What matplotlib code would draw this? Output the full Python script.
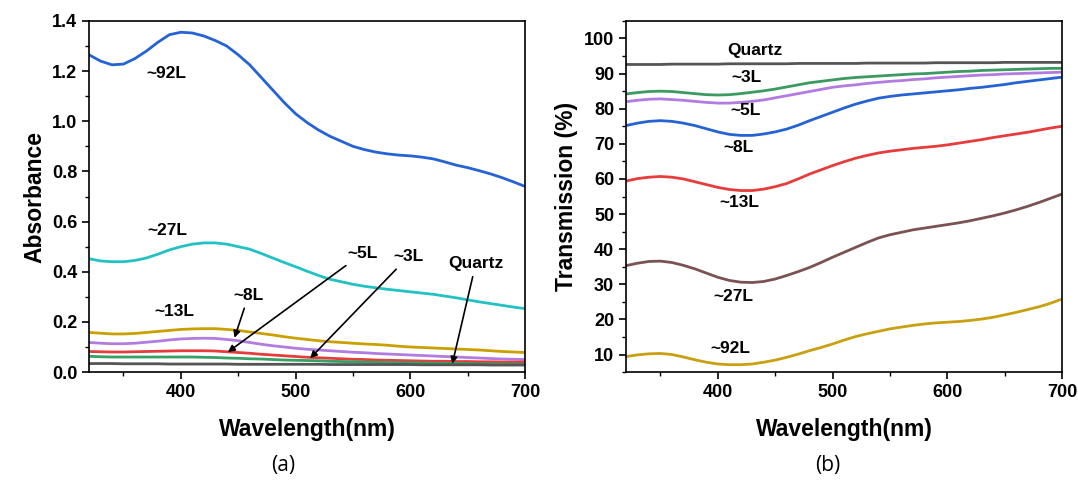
import numpy as np
import matplotlib.pyplot as plt
from matplotlib.ticker import MultipleLocator, FormatStrFormatter

plt.rcParams['font.family'] = ['Liberation Sans', 'DejaVu Sans']

# wavelength grid (nm), 320..700 every 10 nm
wl = list(range(320, 701, 10))

# (a) absorbance
abs_92L = [1.265, 1.24, 1.225, 1.228, 1.25, 1.28, 1.315, 1.345, 1.355, 1.352, 1.34, 1.322, 1.30, 1.265,
           1.225, 1.175, 1.125, 1.075, 1.03, 0.995, 0.965, 0.94, 0.92, 0.90, 0.887, 0.877, 0.87, 0.865,
           0.862, 0.857, 0.85, 0.838, 0.825, 0.815, 0.803, 0.79, 0.775, 0.758, 0.74]
abs_27L = [0.452, 0.443, 0.44, 0.44, 0.445, 0.455, 0.47, 0.487, 0.50, 0.51, 0.515, 0.515, 0.51, 0.50,
           0.49, 0.473, 0.455, 0.437, 0.42, 0.402, 0.385, 0.37, 0.36, 0.35, 0.342, 0.336, 0.33, 0.325,
           0.32, 0.315, 0.31, 0.303, 0.296, 0.288, 0.28, 0.273, 0.266, 0.259, 0.253]
abs_13L = [0.158, 0.155, 0.152, 0.152, 0.154, 0.158, 0.162, 0.166, 0.17, 0.172, 0.173, 0.173, 0.17, 0.166,
           0.16, 0.154, 0.148, 0.141, 0.135, 0.13, 0.125, 0.121, 0.118, 0.115, 0.112, 0.11, 0.107, 0.103,
           0.10, 0.098, 0.096, 0.094, 0.092, 0.09, 0.088, 0.085, 0.082, 0.08, 0.078]
abs_8L = [0.118, 0.115, 0.113, 0.113, 0.115, 0.119, 0.123, 0.128, 0.132, 0.134, 0.135, 0.134, 0.13, 0.125,
          0.118, 0.111, 0.105, 0.10, 0.095, 0.091, 0.088, 0.085, 0.082, 0.079, 0.077, 0.074, 0.072, 0.07,
          0.068, 0.066, 0.064, 0.062, 0.06, 0.058, 0.056, 0.054, 0.052, 0.051, 0.05]
abs_5L = [0.082, 0.081, 0.08, 0.08, 0.081, 0.082, 0.083, 0.084, 0.085, 0.085, 0.085, 0.084, 0.081, 0.078,
          0.075, 0.071, 0.068, 0.065, 0.062, 0.059, 0.057, 0.055, 0.053, 0.051, 0.05, 0.048, 0.047, 0.046,
          0.045, 0.044, 0.043, 0.043, 0.042, 0.042, 0.041, 0.041, 0.04, 0.04, 0.04]
abs_3L = [0.063, 0.061, 0.06, 0.06, 0.06, 0.06, 0.06, 0.06, 0.06, 0.06, 0.059, 0.058, 0.056, 0.055,
          0.053, 0.052, 0.05, 0.048, 0.047, 0.046, 0.045, 0.043, 0.042, 0.041, 0.04, 0.039, 0.038, 0.037,
          0.037, 0.036, 0.035, 0.035, 0.034, 0.034, 0.033, 0.033, 0.032, 0.032, 0.031]
abs_qz = [0.034, 0.034, 0.034, 0.033, 0.033, 0.033, 0.033, 0.032, 0.032, 0.032, 0.032, 0.032, 0.032, 0.031,
          0.031, 0.031, 0.031, 0.031, 0.031, 0.031, 0.031, 0.030, 0.030, 0.030, 0.030, 0.030, 0.030, 0.030,
          0.030, 0.029, 0.029, 0.029, 0.029, 0.029, 0.029, 0.028, 0.028, 0.028, 0.028]

# (b) transmission (%)
tr_qz = [92.6, 92.6, 92.6, 92.6, 92.7, 92.7, 92.7, 92.7, 92.7, 92.8, 92.8, 92.8, 92.8, 92.8,
         92.8, 92.9, 92.9, 92.9, 92.9, 92.9, 92.9, 93.0, 93.0, 93.0, 93.0, 93.0, 93.0, 93.1,
         93.1, 93.1, 93.1, 93.1, 93.1, 93.2, 93.2, 93.2, 93.2, 93.2, 93.2]
tr_3L = [84.2, 84.6, 84.9, 85.0, 84.9, 84.6, 84.3, 84.0, 83.9, 84.0, 84.3, 84.7, 85.1, 85.6,
         86.2, 86.8, 87.4, 87.8, 88.2, 88.6, 88.9, 89.1, 89.3, 89.5, 89.7, 89.9, 90.0, 90.2,
         90.4, 90.6, 90.7, 90.9, 91.0, 91.1, 91.2, 91.3, 91.4, 91.5, 91.5]
tr_5L = [82.0, 82.4, 82.7, 82.8, 82.6, 82.4, 82.1, 81.8, 81.6, 81.6, 81.8, 82.1, 82.5, 83.1,
         83.7, 84.3, 84.9, 85.5, 86.1, 86.5, 86.8, 87.2, 87.5, 87.8, 88.0, 88.3, 88.5, 88.8,
         89.0, 89.2, 89.4, 89.6, 89.7, 89.9, 90.0, 90.1, 90.2, 90.3, 90.4]
tr_8L = [75.2, 75.9, 76.4, 76.6, 76.4, 75.9, 75.2, 74.3, 73.4, 72.7, 72.4, 72.4, 72.8, 73.4,
         74.2, 75.3, 76.6, 77.8, 79.0, 80.2, 81.3, 82.2, 83.0, 83.5, 83.9, 84.2, 84.5, 84.8,
         85.1, 85.4, 85.8, 86.1, 86.5, 86.9, 87.4, 87.8, 88.2, 88.6, 89.0]
tr_13L = [59.4, 60.1, 60.5, 60.7, 60.5, 60.0, 59.2, 58.4, 57.6, 57.0, 56.7, 56.7, 57.1, 57.8,
          58.7, 60.0, 61.4, 62.6, 63.8, 64.9, 65.9, 66.7, 67.4, 67.9, 68.3, 68.7, 69.0, 69.3,
          69.7, 70.2, 70.7, 71.2, 71.8, 72.3, 72.8, 73.3, 73.9, 74.5, 75.0]
tr_27L = [35.3, 36.0, 36.5, 36.6, 36.2, 35.4, 34.4, 33.2, 32.0, 31.1, 30.6, 30.5, 30.8, 31.5,
          32.5, 33.6, 34.8, 36.2, 37.7, 39.1, 40.5, 41.9, 43.2, 44.1, 44.8, 45.5, 46.0, 46.5,
          47.0, 47.5, 48.1, 48.8, 49.5, 50.3, 51.2, 52.2, 53.3, 54.5, 55.7]
tr_92L = [9.4, 9.9, 10.2, 10.3, 10.0, 9.3, 8.5, 7.8, 7.3, 7.1, 7.1, 7.3, 7.8, 8.4,
          9.2, 10.1, 11.1, 12.0, 13.0, 14.1, 15.1, 15.9, 16.6, 17.3, 17.8, 18.3, 18.7, 19.0,
          19.2, 19.4, 19.7, 20.1, 20.6, 21.3, 22.0, 22.8, 23.6, 24.6, 25.8]

fig = plt.figure(figsize=(10.78, 4.87), dpi=100)
axa = fig.add_axes([0.0826, 0.236, 0.4045, 0.721])
axb = fig.add_axes([0.5807, 0.236, 0.4045, 0.721])

lw = 2.0
axa.plot(wl, abs_92L, color='#2563d4', lw=lw)
axa.plot(wl, abs_27L, color='#22c1c3', lw=lw)
axa.plot(wl, abs_13L, color='#c9a000', lw=lw)
axa.plot(wl, abs_8L, color='#b27be0', lw=lw)
axa.plot(wl, abs_5L, color='#e63c3c', lw=lw)
axa.plot(wl, abs_3L, color='#36a065', lw=lw)
axa.plot(wl, abs_qz, color='#555555', lw=lw)

axb.plot(wl, tr_qz, color='#555555', lw=lw)
axb.plot(wl, tr_3L, color='#3a9a62', lw=lw)
axb.plot(wl, tr_5L, color='#b27be0', lw=lw)
axb.plot(wl, tr_8L, color='#2563d4', lw=lw)
axb.plot(wl, tr_13L, color='#e63c3c', lw=lw)
axb.plot(wl, tr_27L, color='#7a5252', lw=lw)
axb.plot(wl, tr_92L, color='#c9a010', lw=lw)

lab = dict(fontsize=12.5, fontweight='bold', ha='center', va='center')
# panel (a) labels and arrows
axa.text(387, 1.19, '~92L', **lab)
axa.text(388, 0.565, '~27L', **lab)
axa.text(394, 0.24, '~13L', **lab)
arr = dict(arrowstyle='-|>', color='black', lw=1.2, mutation_scale=10)
axa.annotate('~8L', xy=(446, 0.126), xytext=(459, 0.306), arrowprops=arr, **lab)
axa.annotate('~5L', xy=(439, 0.073), xytext=(558, 0.472), arrowprops=arr, **lab)
axa.annotate('~3L', xy=(511, 0.047), xytext=(598, 0.459), arrowprops=arr, **lab)
axa.annotate('Quartz', xy=(636, 0.022), xytext=(657, 0.432), arrowprops=arr, **lab)

# panel (b) labels
axb.text(432, 96.5, 'Quartz', **lab)
axb.text(425, 88.9, '~3L', **lab)
axb.text(424, 79.6, '~5L', **lab)
axb.text(418, 69.0, '~8L', **lab)
axb.text(419, 53.3, '~13L', **lab)
axb.text(414, 26.5, '~27L', **lab)
axb.text(411, 11.6, '~92L', **lab)

axa.set_xlim(320, 700)
axa.set_ylim(0, 1.4)
axa.yaxis.set_major_locator(MultipleLocator(0.2))
axa.yaxis.set_minor_locator(MultipleLocator(0.1))
axa.yaxis.set_major_formatter(FormatStrFormatter('%.1f'))
axa.set_ylabel('Absorbance', fontsize=16.5, fontweight='bold')

axb.set_xlim(320, 700)
axb.set_ylim(5, 105)
axb.yaxis.set_major_locator(MultipleLocator(10))
axb.yaxis.set_minor_locator(MultipleLocator(5))
axb.set_ylabel('Transmission (%)', fontsize=16.5, fontweight='bold')

for ax in (axa, axb):
    ax.xaxis.set_major_locator(MultipleLocator(100))
    ax.xaxis.set_minor_locator(MultipleLocator(50))
    ax.set_xlabel('Wavelength(nm)', fontsize=16.5, fontweight='bold', labelpad=12)
    ax.tick_params(which='major', direction='out', length=5, width=1.2, labelsize=13)
    ax.tick_params(which='minor', direction='out', length=3, width=1.0)
    for t in ax.get_xticklabels() + ax.get_yticklabels():
        t.set_fontweight('bold')
    for s in ax.spines.values():
        s.set_linewidth(1.2)

fig.text(0.263, 0.045, '(a)', fontsize=15, ha='center', va='center', family=['Open Sans', 'DejaVu Sans'])
fig.text(0.768, 0.045, '(b)', fontsize=15, ha='center', va='center', family=['Open Sans', 'DejaVu Sans'])

fig.savefig('out.png', dpi=100)
